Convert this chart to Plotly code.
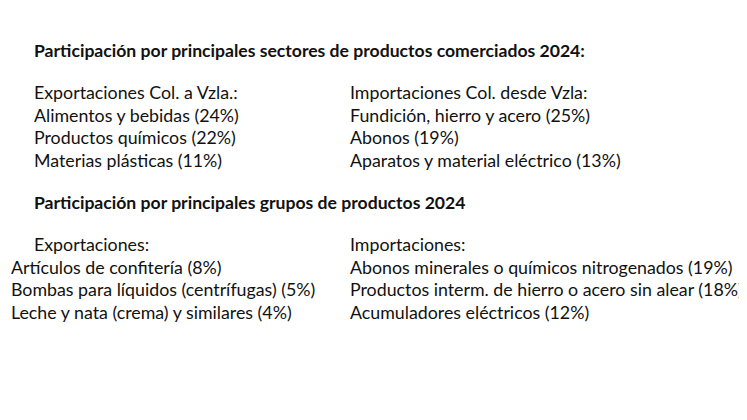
import plotly.graph_objects as go

W, H = 747, 420

titulo_sectores = "Participación por principales sectores de productos comerciados 2024:"
titulo_grupos = "Participación por principales grupos de productos 2024"

sectores_expo = ["Exportaciones Col. a Vzla.:", "Alimentos y bebidas (24%)",
                 "Productos químicos (22%)", "Materias plásticas (11%)"]
sectores_impo = ["Importaciones Col. desde Vzla:", "Fundición, hierro y acero (25%)",
                 "Abonos (19%)", "Aparatos y material eléctrico (13%)"]
grupos_expo = ["Exportaciones:", "Artículos de confitería (8%)",
               "Bombas para líquidos (centrífugas) (5%)", "Leche y nata (crema) y similares (4%)"]
grupos_impo = ["Importaciones:", "Abonos minerales o químicos nitrogenados (19%)",
               "Productos interm. de hierro o acero sin alear (18%)", "Acumuladores eléctricos (12%)"]

fig = go.Figure()
font = dict(family="Lato, Carlito, sans-serif", size=17.8, color="#111")

def txt(x, y, s, bold=False):
    fig.add_annotation(x=(x - 9) / W, y=1 - (y - 4) / H, xref="paper", yref="paper",
                       text=f"<b>{s}</b>" if bold else s, showarrow=False,
                       xanchor="left", yanchor="middle",
                       font=dict(font, size=17.6) if bold else font)

txt(33, 47, titulo_sectores, True)
for i, s in enumerate(sectores_expo):
    txt(33, 88 + i * 22.7, s)
for i, s in enumerate(sectores_impo):
    txt(349, 88 + i * 22.7, s)
txt(33, 198, titulo_grupos, True)
for i, s in enumerate(grupos_expo):
    txt(33 if i == 0 else 10, 240 + i * 22.7, s)
for i, s in enumerate(grupos_impo):
    txt(349, 240 + i * 22.7, s)

fig.update_layout(width=W, height=H, margin=dict(l=0, r=0, t=0, b=0),
                  paper_bgcolor="white", plot_bgcolor="white",
                  xaxis=dict(visible=False), yaxis=dict(visible=False))
fig.write_html("out.html")
